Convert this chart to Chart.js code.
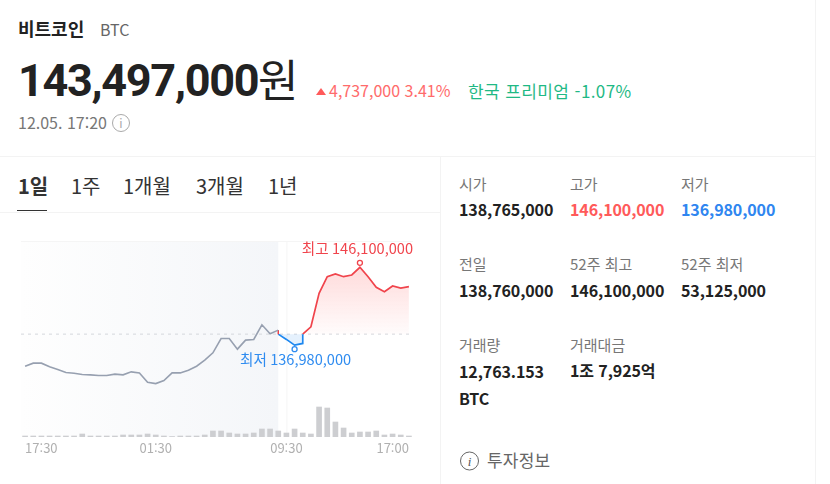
<!DOCTYPE html>
<html lang="ko">
<head>
<meta charset="utf-8">
<script src="https://cdn.jsdelivr.net/npm/chart.js@4"></script>
<style>
html, body { margin: 0; padding: 0; background: #fff; overflow: hidden; }
body { width: 830px; height: 484px; position: relative; font-family: "Noto Sans CJK KR", "Noto Sans", sans-serif; color: #222; }
.t { position: absolute; white-space: nowrap; line-height: 1; transform: translateY(-50%); }
.line { position: absolute; background: #f3f3f3; }
.lbl { font-size: 15px; color: #777; }
.val { font-size: 16px; font-weight: 700; letter-spacing: -0.1px; }
.tab { font-size: 20px; color: #333; }
#wrap { position: absolute; left: 0; top: 230px; width: 440px; height: 230px; }
</style>
</head>
<body>
<div class="t" style="left:18px;top:28px;font-size:18px;font-weight:700">비트코인</div>
<div class="t" style="left:100px;top:29px;font-size:16px;color:#666">BTC</div>
<div class="t" style="left:18px;top:80px;font-size:45px;font-weight:700;font-family:Roboto;letter-spacing:-1.3px">143,497,000</div>
<div class="t" style="left:258px;top:78px;font-size:44px">원</div>
<div style="position:absolute;left:316px;top:88px;border-left:5px solid transparent;border-right:5px solid transparent;border-bottom:7px solid #ff5a5a"></div>
<div class="t" style="left:329px;top:90px;font-size:16px;color:#ff6b6b;letter-spacing:0">4,737,000 3.41%</div>
<div class="t" style="left:468px;top:90px;font-size:17px;color:#1fb985;letter-spacing:0.4px">한국 프리미엄 -1.07%</div>
<div class="t" style="left:18px;top:122px;font-size:16px;color:#777">12.05. 17:20</div>
<div class="t" style="left:112px;top:123px;width:16px;height:16px;border:1.5px solid #aaa;border-radius:50%;font-size:12px;color:#aaa;text-align:center;line-height:16px">i</div>

<div class="line" style="left:0;top:156px;width:815px;height:1px"></div>
<div class="line" style="left:440px;top:156px;width:1px;height:328px"></div>
<div class="line" style="left:815px;top:0;width:1px;height:484px"></div>
<div class="line" style="left:0;top:212px;width:440px;height:1px"></div>

<div class="t tab" style="left:18px;top:186px;font-weight:700">1일</div>
<div class="t tab" style="left:71px;top:186px">1주</div>
<div class="t tab" style="left:123px;top:186px">1개월</div>
<div class="t tab" style="left:196px;top:186px">3개월</div>
<div class="t tab" style="left:268px;top:186px">1년</div>
<div class="line" style="left:17px;top:210px;width:30px;height:1px;background:#333"></div>

<div id="wrap"><canvas id="priceChart" width="440" height="230"></canvas></div>

<div class="t lbl" style="left:459px;top:183px">시가</div>
<div class="t lbl" style="left:570px;top:183px">고가</div>
<div class="t lbl" style="left:681px;top:183px">저가</div>
<div class="t val" style="left:459px;top:209px">138,765,000</div>
<div class="t val" style="left:570px;top:209px;color:#ff5a5a">146,100,000</div>
<div class="t val" style="left:681px;top:209px;color:#2f86f0">136,980,000</div>
<div class="t lbl" style="left:459px;top:263px">전일</div>
<div class="t lbl" style="left:570px;top:263px">52주 최고</div>
<div class="t lbl" style="left:681px;top:263px">52주 최저</div>
<div class="t val" style="left:459px;top:290px">138,760,000</div>
<div class="t val" style="left:570px;top:290px">146,100,000</div>
<div class="t val" style="left:681px;top:290px">53,125,000</div>
<div class="t lbl" style="left:459px;top:344px">거래량</div>
<div class="t lbl" style="left:570px;top:344px">거래대금</div>
<div class="t val" style="left:459px;top:371px">12,763.153</div>
<div class="t val" style="left:570px;top:370px">1조 7,925억</div>
<div class="t val" style="left:459px;top:398px">BTC</div>
<div class="t" style="left:460px;top:461px;width:17px;height:17px;border:1.5px solid #666;border-radius:50%;font-size:13px;font-style:italic;color:#555;text-align:center;line-height:17px;font-family:'Liberation Serif'">i</div>
<div class="t" style="left:487px;top:459px;font-size:17px;color:#666;letter-spacing:0.2px">투자정보</div>

<script>
const times = ["17:30","18:00","18:30","19:00","19:30","20:00","20:30","21:00","21:30","22:00","22:30","23:00",
    "23:30","00:00","00:30","01:00","01:30","02:00","02:30","03:00","03:30","04:00","04:30","05:00",
    "05:30","06:00","06:30","07:00","07:30","08:00","08:30","09:00","09:30","10:00","10:30","11:00",
    "11:30","12:00","12:30","13:00","13:30","14:00","14:30","15:00","15:30","16:00","16:30","17:00"];
const tickTimes = ["17:30", "01:30", "09:30", "17:00"];
const prevClose = 138270000; // dashed line

// before the 09:00 open
const greyPrices = [134510000,134870000,134870000,134440000,134120000,133770000,133690000,133540000,
    133500000,133420000,133420000,133580000,133500000,133850000,133730000,132640000,132480000,132830000,
    133730000,133730000,134050000,134510000,135220000,136080000,137760000,137760000,136510000,137570000,
    137650000,139370000,138310000,138740000];
// below the previous close
const bluePrices = [138270000,137650000,136980000,137180000,138270000];
const blueTimes = ["09:00","09:30","10:00","10:30","10:30"];
// above the previous close
const redPrices = [138270000,139130000,143050000,145000000,145320000,145000000,145200000,146100000,
    145000000,143750000,143240000,143910000,143670000,143830000];
const redTimes = ["10:30","11:00","11:30","12:00","12:30","13:00","13:30","14:00","14:30","15:00","15:30","16:00","16:30","17:00"];
const volumes = [1,1,1,1,1,1,1,3,1,1,1,1,2,2,2,3,2,1,0.5,1,1,1,2,6,6,4,3,3,4,8,8,6,4,8,4,3,30,29,15,9,4,5,5,6,2,3,2,1];

const highPrice = 146100000, lowPrice = 136980000;
const highTime = "14:00", lowTime = "10:00";
const highText = "최고 146,100,000", lowText = "최저 136,980,000";

const pairs = (xs, ys) => ys.map((y, i) => ({ x: xs[i], y: y }));

let redGrad = null;
function redFill(ctx) {
    const area = ctx.chart.chartArea;
    if (!area) return "transparent";
    if (!redGrad) {
        const s = ctx.chart.scales.y;
        redGrad = ctx.chart.ctx.createLinearGradient(0, s.getPixelForValue(highPrice), 0, s.getPixelForValue(prevClose));
        redGrad.addColorStop(0, "rgba(255,90,90,0.22)");
        redGrad.addColorStop(1, "rgba(255,90,90,0.02)");
    }
    return redGrad;
}

// shaded pre-open area, top rule and dashed previous close
const backdrop = {
    id: "backdrop",
    beforeDatasetsDraw(chart) {
        const { ctx, chartArea: a, scales: { x, y } } = chart;
        const right = x.getPixelForValue(times.indexOf("09:00"));
        const open = x.getPixelForValue(times.indexOf("09:30"));
        const g = ctx.createLinearGradient(a.left, 0, right, 0);
        g.addColorStop(0, "#fefefe");
        g.addColorStop(1, "#f4f6f9");
        ctx.save();
        ctx.fillStyle = g;
        ctx.fillRect(a.left, a.top, right - a.left, a.bottom - a.top);
        ctx.fillStyle = "#f5f5f5";
        ctx.fillRect(a.left, a.top, a.right - a.left, 1);
        ctx.fillRect(open, a.top, 1, a.bottom - a.top);
        ctx.strokeStyle = "#d4d7dc";
        ctx.setLineDash([3, 4]);
        ctx.beginPath();
        ctx.moveTo(a.left, y.getPixelForValue(prevClose));
        ctx.lineTo(a.right, y.getPixelForValue(prevClose));
        ctx.stroke();
        ctx.restore();
    }
};

// high and low markers with their captions
const extremes = {
    id: "extremes",
    afterDatasetsDraw(chart) {
        const { ctx, scales: { x, y } } = chart;
        const mark = (time, price, dy, color, text, textX, textY) => {
            const px = x.getPixelForValue(times.indexOf(time));
            const py = y.getPixelForValue(price) + dy;
            ctx.beginPath();
            ctx.arc(px, py, 2.5, 0, Math.PI * 2);
            ctx.fillStyle = "#fff";
            ctx.fill();
            ctx.lineWidth = 1.3;
            ctx.strokeStyle = color;
            ctx.stroke();
            ctx.fillStyle = color;
            ctx.font = '14.6px "Noto Sans CJK KR"';
            ctx.textAlign = "center";
            ctx.textBaseline = "middle";
            ctx.fillText(text, px + textX, py + textY);
        };
        ctx.save();
        mark(highTime, highPrice, -4.5, "#f0444c", highText, -2.5, -14);
        mark(lowTime, lowPrice, 4, "#2f8cf0", lowText, 1, 10);
        ctx.restore();
    }
};

new Chart("priceChart", {
    type: "line",
    data: {
        labels: times,
        datasets: [
            { data: greyPrices, borderColor: "#97a0b0", borderWidth: 1.6, pointRadius: 0, yAxisID: "y" },
            { data: [{ x: "09:00", y: 138740000 }, { x: "09:00", y: prevClose }], borderColor: "#f0444c", borderWidth: 1.5, pointRadius: 0, yAxisID: "y" },
            { data: pairs(blueTimes, bluePrices), borderColor: "#1e88f0", borderWidth: 1.7, pointRadius: 0, yAxisID: "y",
              fill: { value: prevClose }, backgroundColor: "rgba(40,140,240,0.12)" },
            { data: pairs(redTimes, redPrices), borderColor: "#f0444c", borderWidth: 1.7, pointRadius: 0, yAxisID: "y",
              fill: { value: prevClose }, backgroundColor: redFill },
            { type: "bar", data: volumes, backgroundColor: "#cdced1", barThickness: 5, yAxisID: "vol" }
        ]
    },
    options: {
        responsive: false,
        animation: false,
        layout: { padding: { left: 21, right: 27, top: 11, bottom: 0 } },
        plugins: { legend: { display: false }, tooltip: { enabled: false } },
        scales: {
            x: {
                offset: true,
                grid: { display: false, drawTicks: false },
                border: { display: false },
                afterFit: (s) => { s.height = 23; },
                ticks: {
                    autoSkip: false, maxRotation: 0, align: "inner", padding: 3,
                    color: "#b0b0b0", font: { size: 13, family: "Noto Sans CJK KR" },
                    callback(v) {
                        const label = this.getLabelForValue(v);
                        return tickTimes.includes(label) ? label : "";
                    }
                }
            },
            y: { display: false, min: 126220000, max: 149180000 },
            vol: { display: false, min: 0, max: 196 }
        }
    },
    plugins: [backdrop, extremes]
});
</script>
</body>
</html>
